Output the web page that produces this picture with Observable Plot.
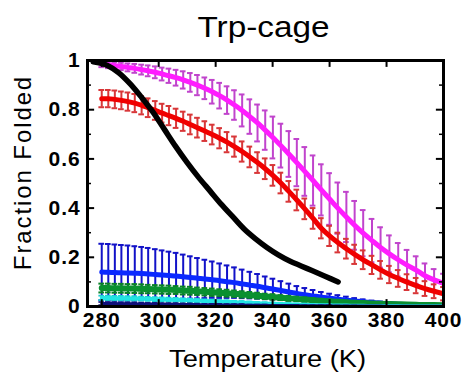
<!DOCTYPE html>
<html>
<head>
<meta charset="utf-8">
<script src="https://cdn.jsdelivr.net/npm/d3@7"></script>
<script src="https://cdn.jsdelivr.net/npm/@observablehq/plot@0.6"></script>
<style>
  html, body { margin: 0; padding: 0; background: #fff; }
  #chart { width: 467px; height: 374px; }
</style>
</head>
<body>
<div id="chart"></div>
<script>
// ---- data ----
const title = "Trp-cage";
const xLabel = "Temperature (K)";
const yLabel = "Fraction Folded";
const xTicks = [280, 300, 320, 340, 360, 380, 400];
const yTicks = [0, 0.2, 0.4, 0.6, 0.8, 1];
const yMinorTicks = [0.1, 0.3, 0.5, 0.7, 0.9];
const yTickLabels = ["0", "0.2", "0.4", "0.6", "0.8", "1"];

const temps = [280.0, 282.3, 284.6, 286.9, 289.2, 291.6, 294.0, 296.3, 298.8, 301.2, 303.6, 306.1, 308.6, 311.1, 313.6, 316.2, 318.8, 321.4, 324.0, 326.6, 329.3, 332.0, 334.7, 337.4, 340.1, 342.9, 345.7, 348.5, 351.3, 354.2, 357.1, 360.0, 362.9, 365.9, 368.8, 371.8, 374.9, 377.9, 381.0, 384.1, 387.2, 390.4, 393.5, 396.7, 400.0];

const magenta = [0.985, 0.982, 0.979, 0.976, 0.972, 0.968, 0.963, 0.958, 0.952, 0.945, 0.938, 0.930, 0.921, 0.911, 0.900, 0.887, 0.873, 0.857, 0.839, 0.819, 0.797, 0.772, 0.746, 0.717, 0.687, 0.654, 0.620, 0.585, 0.549, 0.512, 0.474, 0.437, 0.400, 0.364, 0.330, 0.298, 0.268, 0.240, 0.214, 0.190, 0.168, 0.148, 0.125, 0.108, 0.094];
const magentaErr = [0.012, 0.013, 0.014, 0.015, 0.016, 0.018, 0.020, 0.022, 0.024, 0.026, 0.029, 0.032, 0.035, 0.038, 0.041, 0.044, 0.048, 0.052, 0.056, 0.060, 0.065, 0.070, 0.075, 0.080, 0.085, 0.089, 0.093, 0.096, 0.099, 0.102, 0.104, 0.105, 0.104, 0.102, 0.099, 0.094, 0.088, 0.082, 0.075, 0.068, 0.062, 0.056, 0.050, 0.044, 0.039];

const red = [0.845, 0.845, 0.842, 0.838, 0.833, 0.827, 0.818, 0.808, 0.797, 0.786, 0.776, 0.765, 0.753, 0.740, 0.727, 0.713, 0.699, 0.684, 0.668, 0.650, 0.630, 0.608, 0.585, 0.560, 0.533, 0.502, 0.468, 0.433, 0.397, 0.358, 0.318, 0.287, 0.260, 0.235, 0.212, 0.190, 0.169, 0.149, 0.130, 0.114, 0.099, 0.085, 0.073, 0.062, 0.052];
const redErr = [0.035, 0.035, 0.036, 0.036, 0.037, 0.037, 0.037, 0.038, 0.038, 0.038, 0.039, 0.039, 0.039, 0.040, 0.040, 0.040, 0.040, 0.041, 0.041, 0.041, 0.041, 0.042, 0.042, 0.042, 0.042, 0.042, 0.042, 0.042, 0.042, 0.042, 0.041, 0.041, 0.040, 0.040, 0.039, 0.038, 0.037, 0.036, 0.035, 0.034, 0.032, 0.031, 0.030, 0.028, 0.027];

const blue = [0.140, 0.139, 0.138, 0.137, 0.136, 0.135, 0.134, 0.132, 0.130, 0.128, 0.126, 0.124, 0.121, 0.118, 0.115, 0.112, 0.109, 0.105, 0.101, 0.097, 0.092, 0.087, 0.082, 0.076, 0.071, 0.065, 0.059, 0.053, 0.048, 0.043, 0.038, 0.034, 0.030, 0.026, 0.022, 0.019, 0.016, 0.013, 0.011, 0.009, 0.007, 0.006, 0.005, 0.004, 0.003];
const blueErr = [0.115, 0.115, 0.114, 0.113, 0.112, 0.110, 0.108, 0.106, 0.103, 0.100, 0.097, 0.094, 0.090, 0.086, 0.082, 0.078, 0.074, 0.070, 0.066, 0.062, 0.058, 0.054, 0.050, 0.046, 0.042, 0.038, 0.034, 0.030, 0.027, 0.024, 0.021, 0.018, 0.016, 0.014, 0.012, 0.010, 0.008, 0.007, 0.006, 0.005, 0.004, 0.003, 0.003, 0.002, 0.002];

const green = [0.075, 0.075, 0.074, 0.074, 0.073, 0.073, 0.072, 0.071, 0.070, 0.069, 0.068, 0.067, 0.065, 0.064, 0.062, 0.060, 0.058, 0.056, 0.054, 0.052, 0.049, 0.047, 0.044, 0.041, 0.039, 0.036, 0.033, 0.031, 0.028, 0.026, 0.023, 0.021, 0.019, 0.017, 0.015, 0.014, 0.012, 0.011, 0.010, 0.009, 0.008, 0.007, 0.006, 0.006, 0.005];
const greenErr = [0.018, 0.018, 0.018, 0.018, 0.018, 0.018, 0.018, 0.017, 0.017, 0.017, 0.017, 0.016, 0.016, 0.016, 0.015, 0.015, 0.015, 0.014, 0.014, 0.013, 0.013, 0.012, 0.012, 0.011, 0.011, 0.010, 0.010, 0.009, 0.009, 0.008, 0.008, 0.007, 0.007, 0.006, 0.006, 0.005, 0.005, 0.005, 0.004, 0.004, 0.004, 0.003, 0.003, 0.003, 0.003];

const cyan = [0.035, 0.035, 0.034, 0.034, 0.033, 0.033, 0.032, 0.031, 0.030, 0.029, 0.028, 0.027, 0.026, 0.025, 0.024, 0.022, 0.021, 0.020, 0.019, 0.017, 0.016, 0.015, 0.013, 0.012, 0.011, 0.010, 0.009, 0.008, 0.007, 0.006, 0.005, 0.005, 0.004, 0.004, 0.003, 0.003, 0.002, 0.002, 0.002, 0.002, 0.001, 0.001, 0.001, 0.001, 0.001];
const cyanErr = [0.009, 0.009, 0.009, 0.009, 0.009, 0.009, 0.008, 0.008, 0.008, 0.008, 0.008, 0.008, 0.007, 0.007, 0.007, 0.007, 0.007, 0.006, 0.006, 0.006, 0.006, 0.005, 0.005, 0.005, 0.005, 0.004, 0.004, 0.004, 0.004, 0.003, 0.003, 0.003, 0.003, 0.003, 0.002, 0.002, 0.002, 0.002, 0.002, 0.001, 0.001, 0.001, 0.001, 0.001, 0.001];

const navy = [0.012, 0.012, 0.012, 0.011, 0.011, 0.011, 0.010, 0.010, 0.010, 0.009, 0.009, 0.009, 0.008, 0.008, 0.008, 0.007, 0.007, 0.007, 0.006, 0.006, 0.006, 0.005, 0.005, 0.005, 0.004, 0.004, 0.004, 0.004, 0.003, 0.003, 0.003, 0.003, 0.002, 0.002, 0.002, 0.002, 0.002, 0.002, 0.001, 0.001, 0.001, 0.001, 0.001, 0.001, 0.001];
const navyErr = [0.006, 0.006, 0.006, 0.006, 0.006, 0.006, 0.006, 0.005, 0.005, 0.005, 0.005, 0.005, 0.005, 0.005, 0.004, 0.004, 0.004, 0.004, 0.004, 0.004, 0.004, 0.003, 0.003, 0.003, 0.003, 0.003, 0.003, 0.003, 0.002, 0.002, 0.002, 0.002, 0.002, 0.002, 0.002, 0.001, 0.001, 0.001, 0.001, 0.001, 0.001, 0.001, 0.001, 0.001, 0.001];

const blackTemps = [277, 282, 286, 290, 294, 298, 302, 306, 310, 314, 318, 322, 326, 330, 334, 338, 342, 346, 350, 354, 358, 363];
const blackValues = [0.995, 0.98, 0.95, 0.905, 0.85, 0.79, 0.72, 0.65, 0.585, 0.525, 0.47, 0.415, 0.365, 0.315, 0.275, 0.24, 0.21, 0.185, 0.165, 0.145, 0.125, 0.10];

// ---- build tables ----
const rows = (vals, errs) => temps.map((t, i) => ({t, v: vals[i], e: errs[i]}));
const blackRows = blackTemps.map((t, i) => ({t, v: blackValues[i]}));

const CAP = 1.0; // half cap width in K
function series(data, lineColor, barColor, lineWidth, barWidth) {
  return [
    Plot.ruleX(data, {x: "t", y1: d => d.v - d.e, y2: d => d.v + d.e, stroke: barColor, strokeWidth: barWidth, clip: true}),
    Plot.ruleY(data, {y: d => d.v + d.e, x1: d => d.t - CAP, x2: d => d.t + CAP, stroke: barColor, strokeWidth: barWidth, clip: true}),
    Plot.ruleY(data, {y: d => d.v - d.e, x1: d => d.t - CAP, x2: d => d.t + CAP, stroke: barColor, strokeWidth: barWidth, clip: true}),
    Plot.line(data, {x: "t", y: "v", stroke: lineColor, strokeWidth: lineWidth, curve: "monotone-x", clip: true})
  ];
}

const FONT = "Liberation Sans, Arial, sans-serif";

const chart = Plot.plot({
  width: 467,
  height: 374,
  marginLeft: 87,
  marginRight: 24,
  marginTop: 60,
  marginBottom: 68,
  style: {fontFamily: FONT, background: "#fff", overflow: "visible"},
  x: {domain: [275, 400]},
  y: {domain: [0, 1]},
  marks: [
    ...series(rows(blue, blueErr), "#0a28ff", "#1212c8", 5, 2),
    ...series(rows(green, greenErr), "#0a9030", "#0a8028", 6, 2),
    ...series(rows(cyan, cyanErr), "#22e4e4", "#18cccc", 4, 1.8),
    ...series(rows(navy, navyErr), "#10107a", "#10107a", 3, 1.5),
    ...series(rows(magenta, magentaErr), "#ff1cff", "#c044cc", 5, 2),
    ...series(rows(red, redErr), "#f00000", "#d83638", 5, 2),
    Plot.line(blackRows, {x: "t", y: "v", stroke: "#000", strokeWidth: 5.5, curve: "monotone-x", clip: true}),
    // inward ticks
    Plot.ruleX(xTicks, {x: d => d, y1: 0, y2: 0.028, stroke: "#000", strokeWidth: 2}),
    Plot.ruleX(xTicks, {x: d => d, y1: 0.972, y2: 1, stroke: "#000", strokeWidth: 2}),
    Plot.ruleY(yTicks, {y: d => d, x1: 275, x2: 277.5, stroke: "#000", strokeWidth: 2}),
    Plot.ruleY(yTicks, {y: d => d, x1: 397.5, x2: 400, stroke: "#000", strokeWidth: 2}),
    Plot.ruleY(yMinorTicks, {y: d => d, x1: 275, x2: 276.4, stroke: "#000", strokeWidth: 1.5}),
    Plot.ruleY(yMinorTicks, {y: d => d, x1: 398.6, x2: 400, stroke: "#000", strokeWidth: 1.5}),
    Plot.frame({stroke: "#000", strokeWidth: 3}),
    // tick labels
    Plot.axisX({anchor: "bottom", ticks: xTicks, tickSize: 0, tickPadding: 6, label: null, fontSize: 21, tickFormat: d => String(d), fill: "#000"}),
    Plot.axisY({anchor: "left", ticks: yTicks, tickSize: 0, tickPadding: 7, label: null, fontSize: 21, tickFormat: (d, i) => yTickLabels[i], fill: "#000"}),
    // titles
    Plot.text([title], {frameAnchor: "top", text: d => d, dy: -33, dx: -2, fontSize: 29, fill: "#000", lineAnchor: "middle", textAnchor: "middle"}),
    Plot.text([xLabel], {frameAnchor: "bottom", text: d => d, dy: 53, dx: 2, fontSize: 23, fill: "#000", lineAnchor: "middle", textAnchor: "middle"}),
    Plot.text([yLabel], {frameAnchor: "left", text: d => d, dx: -64, dy: -11, rotate: -90, fontSize: 24, fill: "#000", lineAnchor: "middle", textAnchor: "middle"})
  ]
});

document.getElementById("chart").appendChild(chart);

// stretch text horizontally like the reference
d3.select(chart).selectAll("text").each(function() {
  const s = this.textContent;
  if (s === title) { d3.select(this).attr("textLength", 132).attr("lengthAdjust", "spacingAndGlyphs"); }
  else if (s === xLabel) { d3.select(this).attr("textLength", 197).attr("lengthAdjust", "spacingAndGlyphs"); }
  else if (s === yLabel) { d3.select(this).style("letter-spacing", "1.9px"); }
});
d3.select(chart).selectAll('g[aria-label="x-axis tick label"] text, g[aria-label="y-axis tick label"] text')
  .style("letter-spacing", "0.9px").style("font-weight", "600");
</script>
</body>
</html>
